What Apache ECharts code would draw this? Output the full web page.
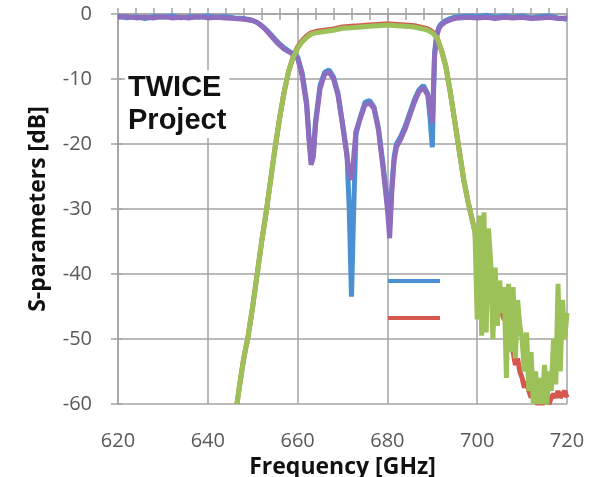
<!DOCTYPE html>
<html>
<head>
<meta charset="utf-8">
<script src="https://cdn.jsdelivr.net/npm/echarts@6/dist/echarts.min.js"></script>
<style>
  html, body { margin: 0; padding: 0; background: #fff; }
  #chart { width: 600px; height: 477px; }
</style>
</head>
<body>
<div id="chart"></div>
<script>
// S11 frequency grid [GHz]
const s11Freq = [620, 622, 624, 626, 628, 630, 632, 634, 636, 638, 640, 642, 644, 646, 648, 650,
  651, 652, 653, 654, 655, 656, 657, 658, 659, 660, 661, 662, 662.5, 663, 663.5, 664, 665, 666,
  667, 668, 669, 670, 671, 671.5, 672, 672.5, 673, 674, 675, 676, 677, 678, 679, 680, 680.5, 681,
  681.5, 682, 683, 684, 685, 686, 687, 688, 689, 689.5, 690, 690.5, 691, 691.5, 692, 693, 694,
  695, 696, 698, 700, 702, 704, 706, 708, 710, 712, 714, 716, 718, 720]
// measured S11 (blue)
const s11Meas = [-0.3, -0.6, -0.4, -0.7, -0.4, -0.5, -0.3, -0.6, -0.4, -0.5, -0.3, -0.5, -0.4, -0.6, -0.7, -1.0,
  -1.3, -1.8, -2.4, -3.1, -3.9, -4.6, -5.2, -5.7, -6.1, -6.6, -9.0, -13.5, -18.5, -22.5, -21.5, -16.5, -11.0, -9.0,
  -8.6, -9.7, -12.2, -16.8, -21.5, -30.0, -43.5, -30.0, -18.5, -15.8, -13.6, -13.3, -14.3, -17.5, -23.0, -29.0, -32.5, -26.5,
  -22.0, -20.0, -18.8, -17.2, -15.2, -13.2, -11.7, -11.0, -12.3, -16.0, -20.5, -6.0, -3.0, -2.0, -1.5, -1.0, -0.7,
  -0.5, -0.4, -0.3, -0.4, -0.2, -0.5, -0.3, -0.5, -0.3, -0.6, -0.4, -0.3, -0.6, -0.8]
// simulated S11 (purple)
const s11Sim = [-0.5, -0.4, -0.6, -0.5, -0.6, -0.4, -0.6, -0.5, -0.6, -0.4, -0.6, -0.5, -0.6, -0.7, -0.8, -1.0,
  -1.3, -1.8, -2.5, -3.3, -4.1, -4.8, -5.4, -5.8, -6.2, -6.8, -9.5, -14.0, -19.0, -23.2, -22.0, -17.0, -11.5, -9.3,
  -8.9, -10.0, -12.5, -17.0, -22.0, -24.5, -25.5, -22.0, -18.0, -16.0, -14.0, -13.7, -14.5, -17.8, -23.5, -30.0, -34.5, -27.0,
  -22.5, -20.5, -19.2, -17.6, -15.6, -13.6, -12.0, -11.3, -12.5, -14.5, -16.8, -6.5, -3.3, -2.2, -1.7, -1.2, -0.9,
  -0.7, -0.6, -0.5, -0.6, -0.5, -0.7, -0.5, -0.6, -0.5, -0.7, -0.6, -0.5, -0.7, -0.6]

// S21 frequency grid [GHz]
const s21Freq = [646.5, 647, 648, 649, 650, 651, 652, 653, 654, 655, 656, 657, 658, 659, 660, 661, 662, 663, 664,
  666, 668, 670, 672, 674, 676, 678, 680, 682, 684, 686, 688, 689, 690, 691, 692, 693, 694, 695, 696, 697, 698, 699,
  699.5, 700, 700.5, 701, 701.5, 702, 702.5, 703, 703.5, 704, 704.5, 705, 705.5, 706, 706.5, 707, 707.5, 708, 708.5,
  709, 709.5, 710, 710.5, 711, 711.5, 712, 712.5, 713, 713.5, 714, 714.5, 715, 715.5, 716, 716.5, 717, 717.5, 718,
  718.5, 719, 719.5, 720]
// measured S21 (red)
const s21Meas = [-60, -57.5, -53, -49.5, -45, -40, -35, -30.5, -25.5, -20.5, -16, -12, -8.8, -6.6, -5.1, -4.1, -3.4, -2.9, -2.7,
  -2.5, -2.3, -2.0, -1.9, -1.8, -1.7, -1.6, -1.5, -1.6, -1.7, -1.8, -2.1, -2.3, -2.7, -3.5, -5.5, -8.0, -12, -16.5, -21, -25.5, -29, -32,
  -33.5, -37, -40, -41, -42, -41, -43.5, -43, -45, -44, -46, -45, -46, -47, -47, -49, -51, -52, -54,
  -53, -55, -56, -57.5, -56.5, -58, -59, -58.5, -59.5, -60, -59.5, -60, -59.5, -59, -60, -59, -58.5, -59, -58,
  -59, -58.5, -58, -59]
// simulated S21 (green)
const s21Sim = [-60, -57.5, -53, -49.5, -45, -40, -35, -30.5, -25.5, -20.5, -16, -12, -8.8, -6.7, -5.3, -4.3, -3.6, -3.1, -2.9,
  -2.7, -2.5, -2.2, -2.1, -2.0, -1.9, -1.8, -1.7, -1.8, -1.9, -2.0, -2.3, -2.5, -2.9, -3.6, -5.5, -8.0, -12, -16.5, -21, -25.5, -29, -32,
  -33.5, -47, -31, -49.5, -30.5, -49, -33, -38, -50, -39, -48, -41, -46, -42, -56, -41.5, -52, -42, -53,
  -44, -48, -50, -55, -49, -58, -52, -60, -55, -60, -56, -60, -54, -60, -55, -58, -50, -57, -41.5,
  -55, -44, -50, -46]

const xTicks = [620, 640, 660, 680, 700, 720]
const yTicks = [-60, -50, -40, -30, -20, -10, 0]

function pairs(xs, ys) {
  return xs.map((x, i) => [x, ys[i]])
}

const chart = echarts.init(document.getElementById('chart'))

const gridColor = '#a3a3a3'
const labelFont = { color: '#595959', fontSize: 20, fontFamily: 'Open Sans' }

const option = {
  animation: false,
  title: {
    text: 'TWICE\nProject',
    left: 125,
    top: 70,
    padding: [1, 3],
    backgroundColor: '#fff',
    textStyle: {
      fontFamily: 'Liberation Sans',
      fontWeight: 'bold',
      fontSize: 29,
      lineHeight: 33,
      color: '#111'
    }
  },
  legend: {
    data: ['S11 measured', 'S21 measured'],
    orient: 'vertical',
    left: 388,
    top: 279,
    padding: 0,
    itemWidth: 52,
    itemHeight: 4,
    itemGap: 33,
    icon: 'rect',
    formatter: () => '',
    textStyle: { fontSize: 1 }
  },
  grid: {
    left: 118,
    right: 33,
    top: 14,
    bottom: 73,
    containLabel: false,
    outerBoundsMode: 'none'
  },
  xAxis: [
    {
      type: 'value',
      min: xTicks[0],
      max: xTicks[xTicks.length - 1],
      interval: 20,
      name: 'Frequency [GHz]',
      nameLocation: 'middle',
      nameGap: 49,
      nameTextStyle: { fontFamily: 'Open Sans', fontWeight: 'bold', fontSize: 23, color: '#111' },
      axisLine: { lineStyle: { color: gridColor, width: 1.5 } },
      axisTick: { show: true, length: 6, lineStyle: { color: gridColor, width: 1.5 } },
      minorTick: { show: true, splitNumber: 5, length: 6, lineStyle: { color: gridColor, width: 1.5 } },
      axisLabel: { ...labelFont, margin: 27 },
      splitLine: { show: true, lineStyle: { color: gridColor, width: 1.5 } }
    },
    {
      type: 'value',
      position: 'bottom',
      min: xTicks[0],
      max: xTicks[xTicks.length - 1],
      interval: 20,
      axisLine: { show: false },
      axisTick: { show: true, inside: true, length: 6, lineStyle: { color: gridColor, width: 1.5 } },
      minorTick: { show: true, splitNumber: 5, length: 6, lineStyle: { color: gridColor, width: 1.5 } },
      axisLabel: { show: false },
      splitLine: { show: false }
    }
  ],
  yAxis: [
    {
      type: 'value',
      min: yTicks[0],
      max: yTicks[yTicks.length - 1],
      interval: 10,
      name: 'S-parameters [dB]',
      nameLocation: 'middle',
      nameGap: 68,
      nameTextStyle: { fontFamily: 'Open Sans', fontWeight: 'bold', fontSize: 23, color: '#111' },
      axisLine: { show: true, lineStyle: { color: gridColor, width: 1.5 } },
      axisTick: { show: true, length: 7, lineStyle: { color: gridColor, width: 1.5 } },
      axisLabel: { ...labelFont, margin: 26, padding: [4, 0, 0, 0] },
      splitLine: { show: true, lineStyle: { color: gridColor, width: 1.5 } }
    },
    {
      type: 'value',
      position: 'left',
      min: yTicks[0],
      max: yTicks[yTicks.length - 1],
      interval: 10,
      axisLine: { show: false },
      axisTick: { show: true, inside: true, length: 4, lineStyle: { color: gridColor, width: 1.5 } },
      axisLabel: { show: false },
      splitLine: { show: false }
    }
  ],
  series: [
    {
      name: 'S11 measured',
      type: 'line',
      data: pairs(s11Freq, s11Meas),
      showSymbol: false,
      clip: false,
      itemStyle: { color: '#4a90d2' },
      lineStyle: { color: '#4a90d2', width: 5 }
    },
    {
      name: 'S21 measured',
      type: 'line',
      data: pairs(s21Freq, s21Meas),
      showSymbol: false,
      clip: false,
      itemStyle: { color: '#d6574e' },
      lineStyle: { color: '#d6574e', width: 5 }
    },
    {
      name: 'S11 simulated',
      type: 'line',
      data: pairs(s11Freq, s11Sim),
      showSymbol: false,
      clip: false,
      itemStyle: { color: '#8e6dbf' },
      lineStyle: { color: '#8e6dbf', width: 5 }
    },
    {
      name: 'S21 simulated',
      type: 'line',
      data: pairs(s21Freq, s21Sim),
      showSymbol: false,
      clip: false,
      itemStyle: { color: '#9bc158' },
      lineStyle: { color: '#9bc158', width: 5 }
    }
  ]
}

chart.setOption(option)
</script>
</body>
</html>
